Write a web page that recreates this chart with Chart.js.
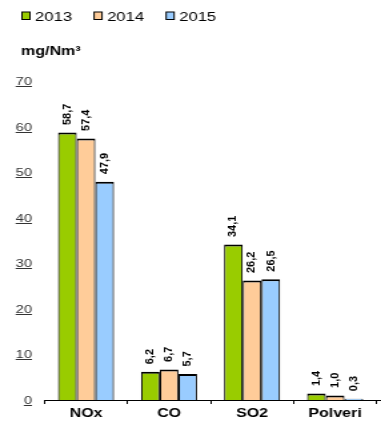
<!DOCTYPE html>
<html>
<head>
<meta charset="utf-8">
<script src="https://cdn.jsdelivr.net/npm/chart.js@4/dist/chart.umd.min.js"></script>
<style>
  html, body { margin: 0; padding: 0; background: #fff; overflow: hidden; }
  /* the drawing is laid out narrow and widened, giving the broad lettering */
  #wrap { position: absolute; left: 0; top: 0; width: 286px; height: 421px;
          transform: scaleX(1.3322); transform-origin: 0 0; }
</style>
</head>
<body>
<div id="wrap"><canvas id="c"></canvas></div>
<script>
const categories = ['NOx', 'CO', 'SO2', 'Polveri'];
const seriesNames = ['2013', '2014', '2015'];
const values2013 = [58.7, 6.2, 34.1, 1.4];
const values2014 = [57.4, 6.7, 26.2, 1.0];
const values2015 = [47.9, 5.7, 26.5, 0.3];
const seriesColors = ['#99cc00', '#ffcc99', '#99ccff'];
const yMin = 0, yMax = 70, yStep = 10;
const unitLabel = 'mg/Nm³';

const FONT = '"Liberation Sans", Arial, sans-serif';
const WIDEN = 1.3322; // horizontal widening applied to #wrap
const fmt = v => v.toFixed(1).replace('.', ',');

const seriesValues = [values2013, values2014, values2015];

// legend, unit caption, rotated value labels and underlined y ticks
const decorations = {
  id: 'decorations',
  afterDraw(chart) {
    const ctx = chart.ctx;
    const area = chart.chartArea;
    const ys = chart.scales.y;
    ctx.save();

    // legend
    ctx.font = '12.5px ' + FONT;
    ctx.textAlign = 'left';
    ctx.textBaseline = 'alphabetic';
    chart.data.datasets.forEach((ds, i) => {
      const bx = 16.5 + i * 54.1;
      ctx.fillStyle = ds.backgroundColor;
      ctx.fillRect(bx, 12, 6, 7.5);
      ctx.strokeStyle = '#000';
      ctx.lineWidth = 1;
      ctx.strokeRect(bx, 12, 6, 7.5);
      ctx.fillStyle = '#000';
      ctx.fillText(ds.label, bx + 9.8, 20.5);
    });

    // unit caption
    ctx.font = 'bold 12px ' + FONT;
    ctx.fillStyle = '#000';
    ctx.fillText(unitLabel, 15.8, 55);

    // value labels above the bars, read bottom to top
    ctx.font = 'bold 11px ' + FONT;
    ctx.textAlign = 'left';
    ctx.textBaseline = 'middle';
    chart.data.datasets.forEach((ds, di) => {
      chart.getDatasetMeta(di).data.forEach((bar, i) => {
        ctx.save();
        ctx.translate(bar.x, bar.y - 7.5);
        ctx.rotate(-Math.PI / 2);
        ctx.scale(1, 1 / WIDEN);
        ctx.fillText(fmt(ds.data[i]), 0, 0);
        ctx.restore();
      });
    });

    // underline under each y tick label
    const tf = ys.options.ticks.font;
    ctx.font = tf.size + 'px ' + FONT;
    const rightX = ys.right - ys.options.ticks.padding;
    ctx.strokeStyle = '#333';
    ctx.lineWidth = 1;
    ys.ticks.forEach(t => {
      const py = Math.round(ys.getPixelForValue(t.value) + 5) + 0.5;
      const w = ctx.measureText(String(t.label)).width;
      ctx.beginPath();
      ctx.moveTo(rightX - w, py);
      ctx.lineTo(rightX, py);
      ctx.stroke();
    });

    // axis line carried on to the right edge
    ctx.strokeStyle = '#000';
    ctx.beginPath();
    ctx.moveTo(area.right, Math.round(area.bottom) + 0.5);
    ctx.lineTo(chart.width, Math.round(area.bottom) + 0.5);
    ctx.stroke();

    ctx.restore();
  }
};

new Chart(document.getElementById('c'), {
  type: 'bar',
  data: {
    labels: categories,
    datasets: seriesNames.map((name, i) => ({
      label: name,
      data: seriesValues[i],
      backgroundColor: seriesColors[i],
      borderColor: '#000',
      borderWidth: { top: 2, left: 1.1, right: 1.1, bottom: 0 },
      barPercentage: 1,
      categoryPercentage: 0.675
    }))
  },
  options: {
    responsive: true,
    maintainAspectRatio: false,
    animation: false,
    layout: { padding: { top: 81, right: 3.3, left: 0, bottom: 0 } },
    plugins: {
      legend: { display: false },
      title: { display: false },
      tooltip: { enabled: false }
    },
    scales: {
      x: {
        afterFit(scale) { scale.height = 21; },
        grid: { display: true, drawOnChartArea: false, drawTicks: true, tickLength: 4,
                offset: true,
                color: c => (c.index === categories.length ? 'rgba(0,0,0,0)' : '#000') },
        border: { display: true, color: '#000', width: 1 },
        ticks: { color: '#000', padding: 2.5, font: { family: FONT, size: 12, weight: 'bold' } }
      },
      y: {
        min: yMin,
        max: yMax,
        afterFit(scale) { scale.width = 33.4; },
        grid: { display: false, drawTicks: false },
        border: { display: false },
        ticks: { stepSize: yStep, color: '#333', padding: 9.4, labelOffset: 1,
                 font: { family: FONT, size: 11 } }
      }
    }
  },
  plugins: [decorations]
});
</script>
</body>
</html>
